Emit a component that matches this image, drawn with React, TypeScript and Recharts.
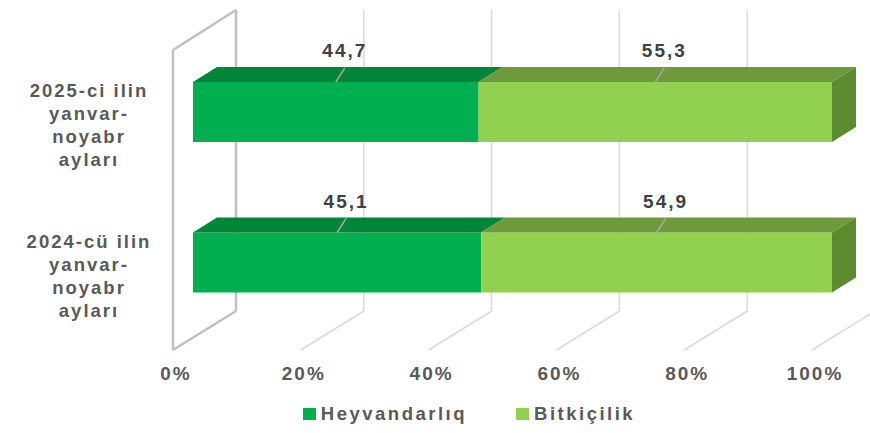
import React from 'react';
import { BarChart, Bar, XAxis, YAxis, CartesianGrid, Legend, LabelList } from 'recharts';

// chart data
const periods = ['2025-ci ilin\nyanvar-\nnoyabr\nayları', '2024-cü ilin\nyanvar-\nnoyabr\nayları'];
const seriesNames = ['Heyvandarlıq', 'Bitkiçilik'];
const livestock = [44.7, 45.1];
const crops = [55.3, 54.9];
const xTicks = [0, 20, 40, 60, 80, 100];

const data = periods.map((period, i) => ({ period, livestock: livestock[i], crops: crops[i] }));

const FONT = '"Liberation Sans", Arial, sans-serif';
const TEXT = '#595959';
const DEPTH_X = 24;
const DEPTH_Y = 15;

// 3d grid: back wall line, floor diagonal, and the left side wall at 0%
function GridLine(props: any) {
  const { x1, y1, y2, x } = props;
  const backX = x1 + 43;
  const top = y1 - 27;
  const bottom = y2 - 27;
  const frontX = x1 - 20;
  const floorY = y2 + 12;
  const isWall = Math.abs(x1 - x) < 1;
  const stroke = isWall ? '#bfbfbf' : '#d9d9d9';
  const sw = isWall ? 2.5 : 1.5;
  return (
    <g key={props.key}>
      <line x1={backX} y1={top} x2={backX} y2={bottom} stroke={stroke} strokeWidth={sw} />
      <line x1={backX} y1={bottom} x2={frontX} y2={floorY} stroke={stroke} strokeWidth={sw} />
      {isWall && (
        <>
          <line x1={frontX} y1={top + 40} x2={frontX} y2={floorY} stroke={stroke} strokeWidth={sw} />
          <line x1={frontX} y1={top + 40} x2={backX} y2={top} stroke={stroke} strokeWidth={sw} />
        </>
      )}
    </g>
  );
}

const makeBarShape = (topFill: string, sideFill?: string) => (props: any) => {
  const { x, y, width, height, fill } = props;
  if (!width || !height) return <g />;
  return (
    <g>
      <rect x={x} y={y} width={width} height={height} fill={fill} />
      <polygon
        points={`${x},${y} ${x + DEPTH_X},${y - DEPTH_Y} ${x + width + DEPTH_X},${y - DEPTH_Y} ${x + width},${y}`}
        fill={topFill}
      />
      {sideFill && (
        <polygon
          points={`${x + width},${y} ${x + width + DEPTH_X},${y - DEPTH_Y} ${x + width + DEPTH_X},${y + height - DEPTH_Y} ${x + width},${y + height}`}
          fill={sideFill}
        />
      )}
    </g>
  );
};

function ValueLabel({ x, y, width, value }: any) {
  const cx = x + width / 2;
  const ex = cx + 9;
  const ey = y - DEPTH_Y;
  return (
    <g>
      <line x1={cx} y1={y} x2={ex} y2={ey + 1} stroke="#a6a6a6" strokeWidth={1.5} />
      <text x={ex} y={ey - 10} textAnchor="middle" fontFamily={FONT} fontWeight="bold" fontSize={19}
        letterSpacing={2} fill="#404040">
        {String(value).replace('.', ',')}
      </text>
    </g>
  );
}

function XTick({ x, y, payload }: any) {
  return (
    <text x={x - 17} y={y + 34} textAnchor="middle" fontFamily={FONT} fontWeight="bold" fontSize={19}
      letterSpacing={2} fill={TEXT}>
      {payload.value}%
    </text>
  );
}

function YTick({ x, y, payload }: any) {
  const lines = String(payload.value).split('\n');
  const cx = x - 96;
  return (
    <text textAnchor="middle" fontFamily={FONT} fontWeight="bold" fontSize={18.5} letterSpacing={2} fill={TEXT}>
      {lines.map((line, i) => (
        <tspan key={i} x={cx} y={y - 15 + 23 * i}>{line}</tspan>
      ))}
    </text>
  );
}

function LegendContent({ payload }: any) {
  const items = [...(payload || [])].sort(
    (a: any, b: any) => seriesNames.indexOf(a.value) - seriesNames.indexOf(b.value),
  );
  return (
    <div style={{
      display: 'flex', justifyContent: 'center', alignItems: 'center', gap: 49, paddingLeft: 68, height: 30,
      fontFamily: FONT, fontWeight: 'bold', fontSize: 18.5, letterSpacing: 2.5, color: TEXT,
    }}>
      {items.map((item: any) => (
        <span key={item.value} style={{ display: 'flex', alignItems: 'center' }}>
          <span style={{ width: 13, height: 12, background: item.color, marginRight: 5, display: 'inline-block' }} />
          {item.value}
        </span>
      ))}
    </div>
  );
}

export default function App() {
  return (
    <div style={{ position: 'absolute', left: 0, top: 0, width: 870, height: 433, background: '#fff' }}>
      <BarChart
        width={870}
        height={433}
        data={data}
        layout="vertical"
        barSize={60}
        margin={{ top: 37, right: 38, left: 0, bottom: 35 }}
      >
        <CartesianGrid horizontal={false} vertical={(p: any) => <GridLine {...p} />} />
        <XAxis
          type="number"
          domain={[0, 100]}
          ticks={xTicks}
          axisLine={false}
          tickLine={false}
          height={30}
          tick={(p: any) => <XTick {...p} />}
        />
        <YAxis
          type="category"
          dataKey="period"
          width={193}
          axisLine={false}
          tickLine={false}
          tick={(p: any) => <YTick {...p} />}
        />
        <Legend verticalAlign="bottom" content={<LegendContent />} wrapperStyle={{ left: 0, width: 870, bottom: 4 }} />
        <Bar dataKey="livestock" name={seriesNames[0]} stackId="a" fill="#00B050" isAnimationActive={false}
          shape={makeBarShape('#008539')}>
          <LabelList dataKey="livestock" content={<ValueLabel />} />
        </Bar>
        <Bar dataKey="crops" name={seriesNames[1]} stackId="a" fill="#92D050" isAnimationActive={false}
          shape={makeBarShape('#6F9A3C', '#5B8A2F')}>
          <LabelList dataKey="crops" content={<ValueLabel />} />
        </Bar>
      </BarChart>
    </div>
  );
}
